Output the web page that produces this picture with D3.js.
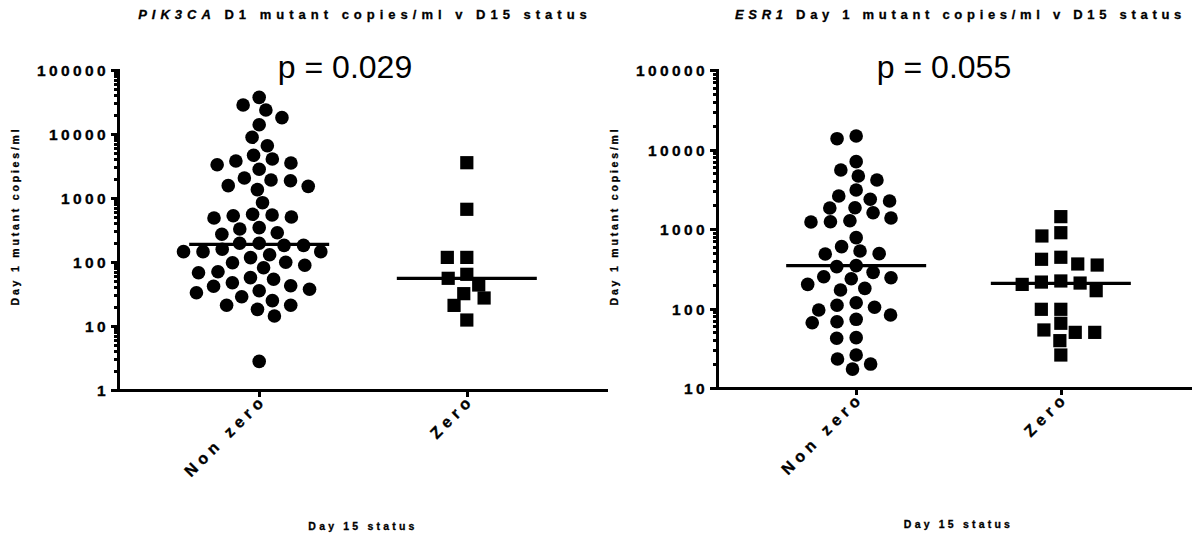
<!DOCTYPE html>
<html>
<head>
<meta charset="utf-8">
<script src="https://cdn.jsdelivr.net/npm/d3@7"></script>
<style>
  html, body { margin: 0; padding: 0; background: #fff; }
  svg { display: block; font-family: "Liberation Sans", Arial, sans-serif; }
  .axis path, .axis line { stroke: #000; stroke-width: 3; shape-rendering: crispEdges; }
  .axis text { font-size: 15.5px; font-weight: bold; letter-spacing: 3.4px; fill: #000; stroke: #000; stroke-width: 0.35px; }
  .heavy { font-weight: bold; stroke: #000; stroke-width: 0.3px; }
</style>
</head>
<body>
<svg id="chart" width="1192" height="534"></svg>
<script>
// Day 1 mutant copies/ml, grouped by Day 15 status
const categories = ["Non zero", "Zero"];

const pik3caNonZero = [37400, 23700, 28400, 18000, 13960, 8880, 6560, 4650, 3520, 2810,
  3790, 4070, 3310, 1910, 1520, 1350, 1860, 1560, 2050, 845,
  542, 505, 487, 529, 556, 344, 271, 328, 287, 196,
  182, 182, 196, 130, 145, 145, 145, 158, 117, 99,
  89, 68, 70.5, 81.5, 97.5, 53.7, 42.6, 37.5, 33.1, 35.6,
  41.7, 47.5, 56.9, 28.7, 21.1, 18.2, 14.3, 21.1, 24.9, 2.8];
const pik3caZero = [3560, 666, 118, 118, 55.6, 64.2, 43.7, 32, 27.4, 21, 12.4];
const pik3caMedians = [188, 55.6];

const esr1NonZero = [14790, 13680, 7030, 5520, 4130, 4640, 3100, 2365, 2250, 2600,
  1854, 1604, 1271, 1225, 1236, 1374, 1837, 778, 528, 485,
  600, 490, 336, 346, 285, 237, 179, 251, 171, 201,
  244, 118, 103.5, 82.8, 95.7, 109.7, 68.2, 66.2, 73.1, 43,
  42.2, 23.2, 17.3, 20, 26];
const esr1Zero = [1430, 898, 817, 416, 352, 363, 441, 215, 201, 167.5,
  209, 222, 97.7, 97.7, 65.2, 50.1, 39.4, 50.1, 53.7, 26];
const esr1Medians = [346, 207];

const pik3caTicks = [1, 10, 100, 1000, 10000, 100000];
const esr1Ticks = [10, 100, 1000, 10000, 100000];

const pValues = ["p = 0.029", "p = 0.055"];
const yTitle = "Day 1 mutant copies/ml";
const xTitle = "Day 15 status";

const svg = d3.select("#chart");

// Scatter-dot layout: each point takes the free x-offset nearest the column
// centre; the keep-out zone is an ellipse (ax wide, ay tall) so that the
// columns spread sideways rather than stacking diagonally.
function swarm(values, y, ax, ay) {
  const k = ax / ay;
  const pts = values.map(v => ({ v, y: y(v), x: 0 })).sort((a, b) => a.y - b.y);
  const placed = [];
  for (const p of pts) {
    const blocked = [];
    for (const q of placed) {
      const dy = Math.abs(q.y - p.y) * k;
      if (dy < ax) {
        const dx = Math.sqrt(ax * ax - dy * dy);
        blocked.push([q.x - dx, q.x + dx]);
      }
    }
    const cands = [0];
    blocked.forEach(b => cands.push(b[0], b[1]));
    cands.sort((a, b) => Math.abs(a) - Math.abs(b) || a - b);
    for (const c of cands) {
      if (blocked.every(b => c <= b[0] + 1e-6 || c >= b[1] - 1e-6)) { p.x = c; break; }
    }
    placed.push(p);
  }
  return pts;
}

function drawPanel(cfg) {
  const g = svg.append("g");
  const { x0, x1, top, bottom } = cfg;

  const y = d3.scaleLog().domain(cfg.domain).range([bottom, top]);
  const x = d3.scalePoint().domain(categories).range([x0, x1]).padding(0.68);

  // minor log ticks
  const minors = [];
  for (let i = 0; i < cfg.ticks.length - 1; i++) {
    for (let k = 2; k <= 9; k++) minors.push(cfg.ticks[i] * k);
  }
  g.append("g").attr("class", "axis").attr("transform", `translate(${x0},0)`)
    .call(d3.axisLeft(y).tickValues(minors).tickSize(4).tickFormat(""))
    .call(s => s.select(".domain").remove())
    .selectAll("line").attr("stroke-width", 2);

  // major ticks and labels
  g.append("g").attr("class", "axis").attr("transform", `translate(${x0},0)`)
    .call(d3.axisLeft(y).tickValues(cfg.ticks).tickSize(7).tickPadding(2).tickFormat(d3.format("d")).tickSizeOuter(0))
    .call(s => s.select(".domain").attr("d", `M0,${top - 1}V${bottom}`))
    .selectAll("text").attr("dy", "0.36em");

  // category axis
  const xa = g.append("g").attr("class", "axis").attr("transform", `translate(0,${bottom})`)
    .call(d3.axisBottom(x).tickSize(7).tickSizeOuter(0))
    .call(s => s.select(".domain").attr("d", `M${x0 - 1.5},0H${x1}`));
  xa.selectAll("text")
    .attr("text-anchor", "end")
    .attr("dy", null)
    .attr("y", 0)
    .attr("transform", "translate(8,11) rotate(-45)")
    .style("font-size", "16px")
    .style("letter-spacing", "5px");

  // points
  const groups = [
    { cat: categories[0], values: cfg.nonZero, shape: "circle" },
    { cat: categories[1], values: cfg.zero, shape: "square" }
  ];
  groups.forEach(grp => {
    const pts = swarm(grp.values, y, 19.5, 13.5);
    const cx = x(grp.cat);
    if (grp.shape === "circle") {
      g.append("g").selectAll("circle").data(pts).join("circle")
        .attr("cx", d => cx + d.x).attr("cy", d => d.y).attr("r", 6.8).attr("fill", "#000");
    } else {
      g.append("g").selectAll("rect").data(pts).join("rect")
        .attr("x", d => cx + d.x - 6.6).attr("y", d => d.y - 6.6)
        .attr("width", 13.2).attr("height", 13.2).attr("fill", "#000");
    }
  });

  // median lines
  g.append("g").selectAll("line").data(cfg.medians).join("line")
    .attr("x1", (d, i) => x(categories[i]) - 70)
    .attr("x2", (d, i) => x(categories[i]) + 70)
    .attr("y1", d => y(d)).attr("y2", d => y(d))
    .attr("stroke", "#000").attr("stroke-width", 3.2);

  // title
  const t = g.append("text")
    .attr("class", "heavy")
    .attr("x", (x0 + x1) / 2 + cfg.titleShift).attr("y", 19)
    .attr("text-anchor", "middle")
    .style("font-size", "13px").style("letter-spacing", cfg.titleSpacing + "px");
  t.append("tspan").style("font-style", "italic").text(cfg.gene);
  t.append("tspan").text(" " + cfg.title);

  // p value
  g.append("text")
    .attr("x", x0 + 227).attr("y", 78)
    .attr("text-anchor", "middle")
    .style("font-size", "32px")
    .text(cfg.p);

  // axis titles
  g.append("text")
    .attr("class", "heavy")
    .attr("transform", `translate(${cfg.yTitleX},216) rotate(-90)`)
    .attr("text-anchor", "middle")
    .style("font-size", "10.5px").style("letter-spacing", "2.8px")
    .text(yTitle);

  g.append("text")
    .attr("class", "heavy")
    .attr("x", (x0 + x1) / 2).attr("y", bottom + 140)
    .attr("text-anchor", "middle")
    .style("font-size", "10.5px").style("letter-spacing", "3.2px")
    .text(xTitle);
}

drawPanel({
  x0: 118, x1: 608, top: 70, bottom: 390,
  domain: [1, 100000], ticks: pik3caTicks,
  nonZero: pik3caNonZero, zero: pik3caZero, medians: pik3caMedians,
  gene: "PIK3CA", title: "D1 mutant copies/ml v D15 status", titleShift: 2, titleSpacing: 5,
  p: pValues[0], yTitleX: 19
});

drawPanel({
  x0: 717, x1: 1200, top: 70, bottom: 388,
  domain: [10, 100000], ticks: esr1Ticks,
  nonZero: esr1NonZero, zero: esr1Zero, medians: esr1Medians,
  gene: "ESR1", title: "Day 1 mutant copies/ml v D15 status", titleShift: 2, titleSpacing: 4.7,
  p: pValues[1], yTitleX: 618
});
</script>
</body>
</html>
